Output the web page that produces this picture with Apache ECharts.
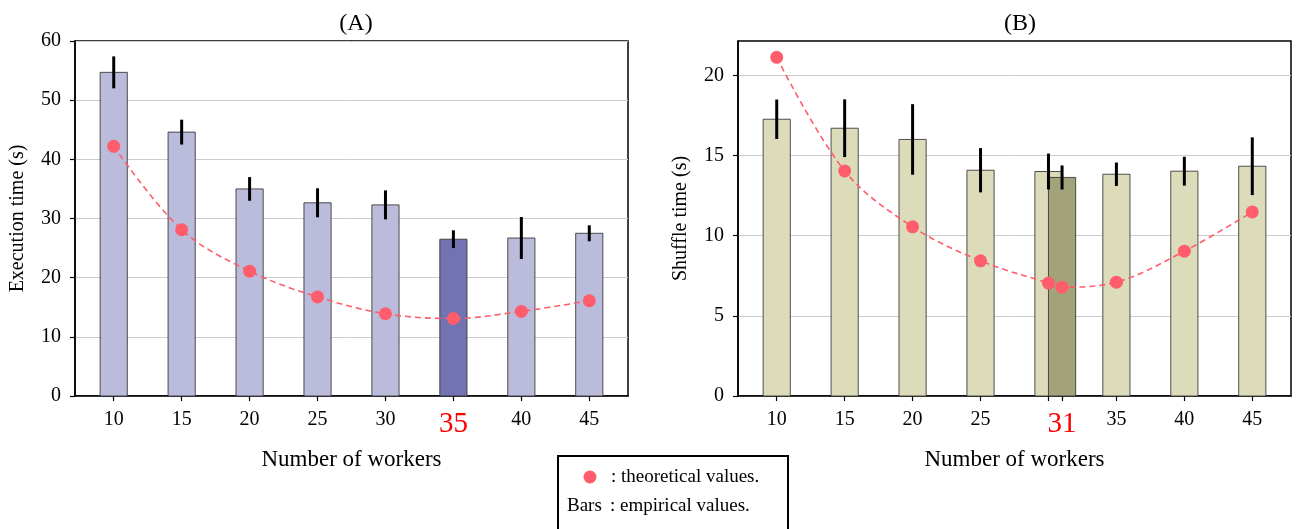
<!DOCTYPE html>
<html>
<head>
<meta charset="utf-8">
<script src="https://cdn.jsdelivr.net/npm/echarts@6/dist/echarts.min.js"></script>
<style>html,body{margin:0;padding:0;background:#fff}#c{width:1311px;height:529px}</style>
</head>
<body>
<div id="c"></div>
<script>
// ---- data ----
const workersA = [10, 15, 20, 25, 30, 35, 40, 45];
const execMean = [54.7, 44.6, 35.0, 32.65, 32.3, 26.5, 26.7, 27.5];
const execErr = [2.7, 2.1, 2.0, 2.45, 2.45, 1.5, 3.55, 1.35];
const execTheory = [42.2, 28.1, 21.1, 16.75, 13.9, 13.1, 14.3, 16.1];
const optimalA = 35;

const workersB = [10, 15, 20, 25, 30, 31, 35, 40, 45];
const shuffleMean = [17.26, 16.7, 16.0, 14.08, 14.0, 13.63, 13.83, 14.02, 14.33];
const shuffleErr = [1.23, 1.8, 2.2, 1.38, 1.12, 0.75, 0.73, 0.9, 1.8];
const shuffleTheory = [21.12, 14.04, 10.55, 8.43, 7.04, 6.79, 7.1, 9.03, 11.48];
const optimalB = 31;

const xTicksA = [10, 15, 20, 25, 30, 35, 40, 45];
const xTicksB = [10, 15, 20, 25, 30, 31, 35, 40, 45];
const xLabelsB = [10, 15, 20, 25, 31, 35, 40, 45];
const yTicksA = [0, 10, 20, 30, 40, 50, 60];
const yTicksB = [0, 5, 10, 15, 20];

// ---- style ----
const FONT = 'Liberation Serif';
const colA = {light: '#bbbbdc', dark: '#7373b3'};
const colB = {light: '#dcdcbb', dark: '#a3a37b'};
const RED = '#ff5d6c';

function barRender(cols) {
  return function (params, api) {
    const x = api.value(0), v = api.value(1), dark = api.value(2);
    const p0 = api.coord([x - 1, v]);
    const p1 = api.coord([x + 1, 0]);
    return {
      type: 'rect',
      shape: {x: p0[0], y: p0[1], width: p1[0] - p0[0], height: p1[1] - p0[1]},
      style: {fill: dark ? cols.dark : cols.light, stroke: 'rgba(50,50,50,0.85)', lineWidth: 1}
    };
  };
}
function errRender(params, api) {
  const x = api.value(0);
  const a = api.coord([x, api.value(1)]);
  const b = api.coord([x, api.value(2)]);
  return {type: 'line', shape: {x1: a[0], y1: a[1], x2: b[0], y2: b[1]},
    style: {stroke: '#000', lineWidth: 3}};
}

function xAxis(idx, ticks, labels, optimal) {
  return {
    type: 'value', gridIndex: idx, min: 7.15, max: 47.85,
    name: 'Number of workers', nameLocation: 'middle', nameGap: 52,
    nameTextStyle: {fontFamily: FONT, fontSize: 23, color: '#000'},
    axisLine: {show: true, lineStyle: {color: '#000', width: 1.5}},
    axisTick: {show: true, inside: false, customValues: ticks, length: 5, lineStyle: {color: '#000', width: 1.2}},
    axisLabel: {
      customValues: labels, margin: 14, color: '#000', fontFamily: FONT, fontSize: 20,
      formatter: v => (v === optimal ? '{r|' + v + '}' : String(v)),
      rich: {r: {color: '#ff0000', fontSize: 29, fontFamily: FONT, padding: [0, 0, 0, 0]}}
    },
    splitLine: {show: false}
  };
}
function yAxis(idx, max, ticks, name, interval) {
  return {
    type: 'value', gridIndex: idx, min: 0, max: max, interval: interval,
    name: name, nameLocation: 'middle', nameGap: 47,
    nameTextStyle: {fontFamily: FONT, fontSize: 20, color: '#000'},
    axisLine: {show: true, lineStyle: {color: '#000', width: 1.5}},
    axisTick: {show: true, inside: false, customValues: ticks, length: 5, lineStyle: {color: '#000', width: 1.2}},
    axisLabel: {customValues: ticks, margin: 14, color: '#000', fontFamily: FONT, fontSize: 20},
    splitLine: {show: true, lineStyle: {color: '#cccccc', width: 1}}
  };
}

const option = {
  animation: false,
  backgroundColor: '#fff',
  title: [
    {text: '(A)', left: 351, top: 7, textAlign: 'center', textStyle: {fontFamily: FONT, fontSize: 24, fontWeight: 'normal', color: '#000'}},
    {text: '(B)', left: 1015, top: 7, textAlign: 'center', textStyle: {fontFamily: FONT, fontSize: 24, fontWeight: 'normal', color: '#000'}}
  ],
  grid: [
    {left: 75, top: 41, width: 553, height: 355, show: true, borderColor: '#000', borderWidth: 1.5, backgroundColor: 'transparent'},
    {left: 738, top: 41, width: 553, height: 355, show: true, borderColor: '#000', borderWidth: 1.5, backgroundColor: 'transparent'}
  ],
  xAxis: [xAxis(0, xTicksA, xTicksA, optimalA), xAxis(1, xTicksB, xLabelsB, optimalB)],
  yAxis: [yAxis(0, 60, yTicksA, 'Execution time (s)', 10), yAxis(1, 22.14, yTicksB, 'Shuffle time (s)', 5)],
  series: [
    {type: 'custom', xAxisIndex: 0, yAxisIndex: 0, z: 2, renderItem: barRender(colA),
      data: workersA.map((w, i) => [w, execMean[i], w === optimalA ? 1 : 0])},
    {type: 'line', xAxisIndex: 0, yAxisIndex: 0, z: 3, smooth: 0.35, symbol: 'circle', symbolSize: 13,
      itemStyle: {color: RED}, lineStyle: {color: RED, width: 1.6, type: [6, 4]},
      data: workersA.map((w, i) => [w, execTheory[i]])},
    {type: 'custom', xAxisIndex: 0, yAxisIndex: 0, z: 4, renderItem: errRender,
      data: workersA.map((w, i) => [w, execMean[i] - execErr[i], execMean[i] + execErr[i]])},

    {type: 'custom', xAxisIndex: 1, yAxisIndex: 1, z: 2, renderItem: barRender(colB),
      data: workersB.map((w, i) => [w, shuffleMean[i], w === optimalB ? 1 : 0])},
    {type: 'line', xAxisIndex: 1, yAxisIndex: 1, z: 3, smooth: 0.35, symbol: 'circle', symbolSize: 13,
      itemStyle: {color: RED}, lineStyle: {color: RED, width: 1.6, type: [6, 4]},
      data: workersB.map((w, i) => [w, shuffleTheory[i]])},
    {type: 'custom', xAxisIndex: 1, yAxisIndex: 1, z: 4, renderItem: errRender,
      data: workersB.map((w, i) => [w, shuffleMean[i] - shuffleErr[i], shuffleMean[i] + shuffleErr[i]])}
  ],
  graphic: [
    {type: 'rect', shape: {x: 558, y: 456, width: 230, height: 100}, style: {fill: '#fff', stroke: '#000', lineWidth: 2}, z: 10},
    {type: 'circle', shape: {cx: 590, cy: 477, r: 6.5}, style: {fill: RED}, z: 11},
    {type: 'text', x: 611, y: 477, style: {text: ': theoretical values.', fontFamily: FONT, fontSize: 19, fill: '#000', verticalAlign: 'middle'}, z: 11},
    {type: 'text', x: 567, y: 506, style: {text: 'Bars', fontFamily: FONT, fontSize: 19, fill: '#000', verticalAlign: 'middle'}, z: 11},
    {type: 'text', x: 610, y: 506, style: {text: ': empirical values.', fontFamily: FONT, fontSize: 19, fill: '#000', verticalAlign: 'middle'}, z: 11}
  ]
};
const chart = echarts.init(document.getElementById('c'));
chart.setOption(option);
</script>
</body>
</html>
